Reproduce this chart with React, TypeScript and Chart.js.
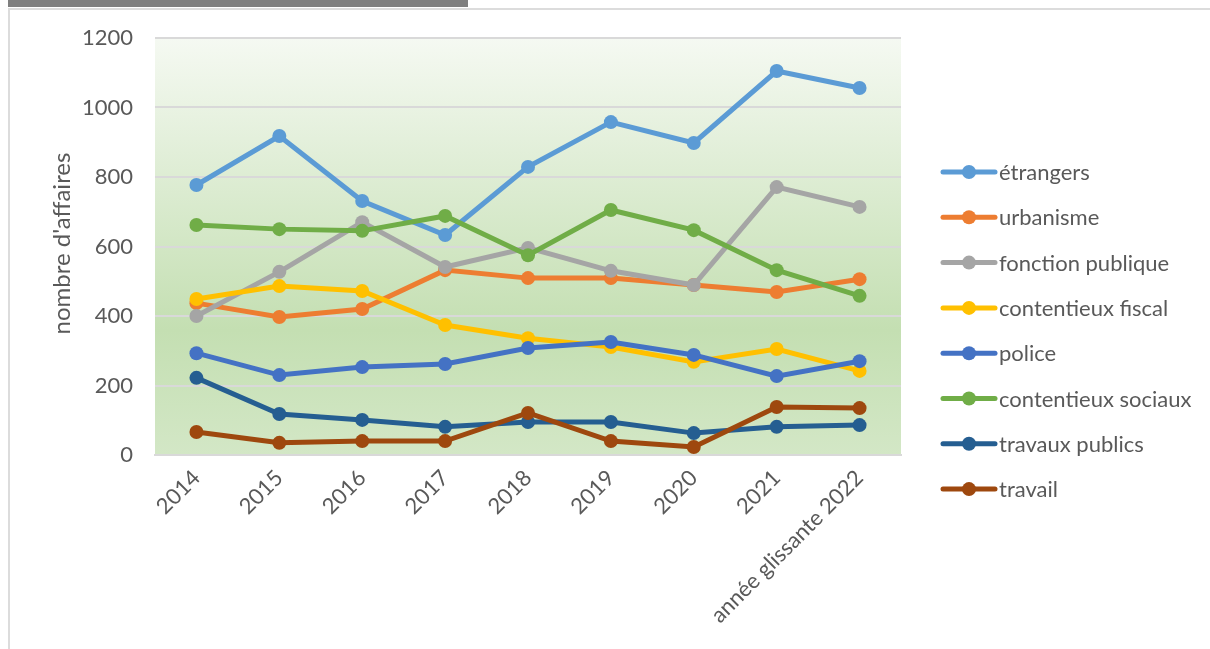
import React, { useEffect, useRef } from "react";
import { Chart, registerables } from "chart.js";

Chart.register(...registerables);

const categories = ["2014", "2015", "2016", "2017", "2018", "2019", "2020", "2021", "année glissante 2022"];
const seriesNames = [
  "étrangers",
  "urbanisme",
  "fonction publique",
  "contentieux fiscal",
  "police",
  "contentieux sociaux",
  "travaux publics",
  "travail",
];
const seriesColors = ["#5B9BD5", "#ED7D31", "#A5A5A5", "#FFC000", "#4472C4", "#70AD47", "#255E91", "#9E480E"];

const etrangers = [777, 918, 731, 633, 829, 958, 898, 1105, 1056];
const urbanisme = [437, 397, 420, 532, 509, 509, 489, 469, 506];
const fonctionPublique = [400, 527, 670, 541, 596, 530, 489, 771, 714];
const contentieuxFiscal = [449, 486, 472, 374, 336, 311, 268, 305, 242];
const police = [293, 230, 253, 262, 308, 325, 288, 227, 270];
const contentieuxSociaux = [662, 650, 645, 688, 575, 705, 647, 532, 458];
const travauxPublics = [222, 118, 101, 81, 95, 95, 63, 81, 86];
const travail = [66, 35, 40, 40, 121, 40, 23, 138, 135];

const seriesValues = [etrangers, urbanisme, fonctionPublique, contentieuxFiscal, police, contentieuxSociaux, travauxPublics, travail];

const yTicks = [0, 200, 400, 600, 800, 1000, 1200];
const yTitle = "nombre d'affaires";

const FONT = "Lato, 'Open Sans', sans-serif";
const TEXT = "#595959";

export default function App() {
  const ref = useRef<HTMLCanvasElement | null>(null);

  useEffect(() => {
    if (!ref.current) return;
    const bgPlugin = {
      id: "bg",
      beforeDraw(chart: any) {
        const { ctx, chartArea } = chart;
        const { left, top, right, bottom } = chartArea;
        const g = ctx.createLinearGradient(0, top, 0, bottom);
        g.addColorStop(0, "#f5f9f2");
        g.addColorStop(0.7, "#c4dfb2");
        g.addColorStop(1, "#d3e7c6");
        ctx.save();
        ctx.fillStyle = g;
        ctx.fillRect(left, top, right - left, bottom - top);
        ctx.restore();
      },
      afterDraw(chart: any) {
        const { ctx, chartArea } = chart;
        ctx.save();
        ctx.translate(62, (chartArea.top + chartArea.bottom) / 2 - 3);
        ctx.rotate(-Math.PI / 2);
        ctx.fillStyle = TEXT;
        ctx.font = `24px ${FONT}`;
        ctx.textAlign = "center";
        ctx.textBaseline = "middle";
        ctx.fillText(yTitle, 0, 0);
        ctx.restore();
        ctx.save();
        seriesNames.forEach((name, i) => {
          const y = 172 + i * 45.3;
          ctx.strokeStyle = seriesColors[i];
          ctx.lineWidth = 5;
          ctx.lineCap = "round";
          ctx.beginPath();
          ctx.moveTo(943, y);
          ctx.lineTo(995, y);
          ctx.stroke();
          ctx.fillStyle = seriesColors[i];
          ctx.beginPath();
          ctx.arc(969, y, 7, 0, Math.PI * 2);
          ctx.fill();
          ctx.fillStyle = TEXT;
          ctx.font = `22px ${FONT}`;
          ctx.textAlign = "left";
          ctx.textBaseline = "middle";
          ctx.fillText(name, 999, y + 1);
        });
        ctx.restore();
      },
    };

    const chart = new Chart(ref.current, {
      type: "line",
      data: {
        labels: categories,
        datasets: seriesNames.map((name, i) => ({
          label: name,
          data: seriesValues[i],
          borderColor: seriesColors[i],
          backgroundColor: seriesColors[i],
          borderWidth: 5,
          pointRadius: 7,
          pointHoverRadius: 7,
          pointBorderWidth: 0,
          tension: 0,
          order: seriesNames.length - i,
        })),
      },
      options: {
        responsive: false,
        animation: false,
        layout: { padding: { left: 0, right: 309, top: 38, bottom: 0 } },
        plugins: { legend: { display: false }, tooltip: { enabled: false } },
        scales: {
          x: {
            offset: true,
            grid: { display: false, drawTicks: false },
            border: { display: true, color: "#d9d9d9", width: 2 },
            ticks: {
              color: TEXT,
              font: { size: 22, family: FONT },
              minRotation: 45,
              maxRotation: 45,
              padding: 10,
              autoSkip: false,
            },
            afterFit(scale: any) {
              scale.height = 649 - 455;
            },
          },
          y: {
            min: 0,
            max: 1200,
            afterBuildTicks(scale: any) {
              scale.ticks = yTicks.map((v) => ({ value: v }));
            },
            grid: { color: "#d9d9d9", lineWidth: 2, drawTicks: false },
            border: { display: false },
            ticks: {
              color: TEXT,
              font: { size: 22, family: FONT },
              padding: 22,
              callback: (v: any) => String(v),
            },
            afterFit(scale: any) {
              scale.width = 155;
            },
          },
        },
      },
      plugins: [bgPlugin],
    });
    return () => chart.destroy();
  }, []);

  return (
    <div style={{ position: "absolute", left: 0, top: 0, width: 1210, height: 649, background: "#fff", overflow: "hidden" }}>
      <div style={{ position: "absolute", left: 8, top: 0, width: 460, height: 7, background: "#7f7f7f" }} />
      <div style={{ position: "absolute", left: 8, top: 8, width: 1202, height: 2, background: "#dcdcdc" }} />
      <div style={{ position: "absolute", left: 8, top: 8, width: 2, height: 641, background: "#dcdcdc" }} />
      <canvas ref={ref} width={1210} height={649} style={{ position: "absolute", left: 0, top: 0 }} />
    </div>
  );
}
